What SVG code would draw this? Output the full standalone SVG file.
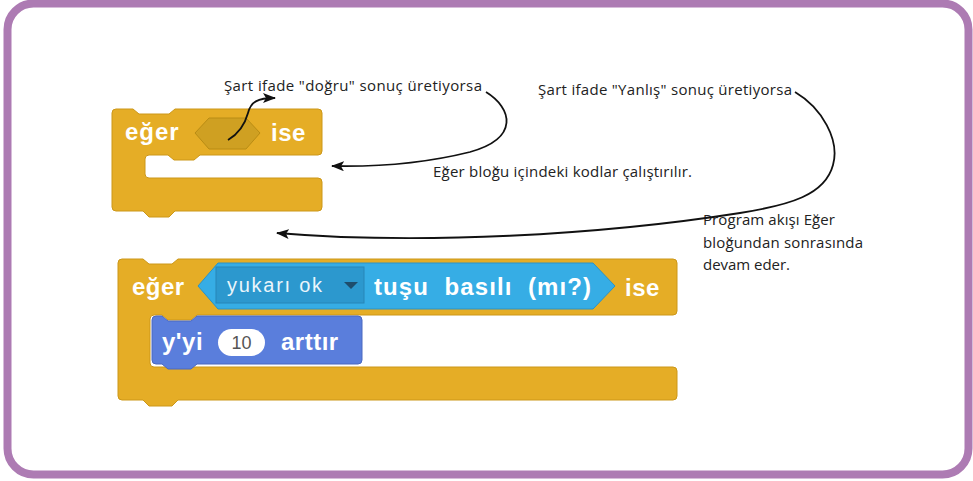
<svg xmlns="http://www.w3.org/2000/svg" width="973" height="481" viewBox="0 0 973 481">
<defs>
<style>
.frame{fill:#ffffff;stroke:#AD7BB3;stroke-width:8}
.ctrl{fill:#E5AD26;stroke:#CC9718;stroke-width:1}
.slot{fill:#CFA022;stroke:#B98C14;stroke-width:1}
.sense{fill:#36ADE5;stroke:#2A93C7;stroke-width:1}
.drop{fill:#2C98CE;stroke:#2786B8;stroke-width:1}
.motion{fill:#5A7EDC;stroke:#4A68C0;stroke-width:1}
.bt{font-family:"Liberation Sans",Arial,sans-serif;font-weight:bold;font-size:24px;fill:#ffffff}
.ann{font-family:"Open Sans","DejaVu Sans",sans-serif;font-size:15px;fill:#222222}
.wire{fill:none;stroke:#111111;stroke-width:1.8;marker-end:url(#ah)}
</style>
<marker id="ah" viewBox="0 0 13 10" refX="12" refY="5" markerWidth="13" markerHeight="10" markerUnits="userSpaceOnUse" orient="auto">
<path d="M0,0 L13,5 L0,10 L3,5 Z" fill="#111111"/>
</marker>
</defs>
<rect class="frame" x="7.5" y="3.5" width="961" height="471" rx="26"/>

<g id="block-if-generic">
<path class="ctrl" d="M112,113 Q112,109 116,109 L133,109 L139,114 L169,114 L175,109 L318,109 Q322,109 322,113 L322,151 Q322,155 318,155 L200,155 L194,160 L174,160 L168,155 L149,155 Q145,155 145,159 L145,174 Q145,178 149,178 L318,178 Q322,178 322,182 L322,207 Q322,211 318,211 L175,211 L169,217 L149,217 L143,211 L116,211 Q112,211 112,207 Z"/>
<text class="bt" x="125" y="140" letter-spacing="1">eğer</text>
<polygon class="slot" points="195,133 209,118 246,118 260,133 246,149 209,149"/>
<text class="bt" x="271" y="141" letter-spacing="0.5">ise</text>
</g>

<g id="block-if-key">
<path class="ctrl" d="M118,263 Q118,259 122,259 L143,259 L149,264 L172,264 L178,259 L673,259 Q677,259 677,263 L677,311 Q677,315 673,315 L197,315 L191,320 L168,320 L162,315 L154,315 Q150,315 150,319 L150,363 Q150,367 154,367 L673,367 Q677,367 677,371 L677,396 Q677,400 673,400 L178,400 L172,406 L149,406 L143,400 L122,400 Q118,400 118,396 Z"/>
<text class="bt" x="132" y="295" letter-spacing="0.5">eğer</text>
<polygon class="sense" points="198,286 218,263 593,263 615,286 593,309 218,309"/>
<rect class="drop" x="216" y="267" width="148" height="36"/>
<text x="227" y="292" font-family="'Liberation Sans',Arial,sans-serif" font-size="20" fill="#EAF5FB" textLength="95" lengthAdjust="spacing">yukarı ok</text>
<polygon points="344,282 358,282 351,289" fill="#1E4D6C"/>
<text class="bt" x="374" y="295" textLength="217" lengthAdjust="spacing" xml:space="preserve">tuşu  basılı  (mı?)</text>
<text class="bt" x="625" y="296" letter-spacing="0.5">ise</text>
</g>

<g id="block-change-y">
<path class="motion" d="M152,320 Q152,316 156,316 L162,316 L168,321 L191,321 L197,316 L358,316 Q362,316 362,320 L362,360 Q362,364 358,364 L197,364 L191,369 L168,369 L162,364 L156,364 Q152,364 152,360 Z"/>
<text class="bt" x="162" y="350" letter-spacing="0.5">y'yi</text>
<rect x="218" y="329" width="47" height="27" rx="13.5" fill="#ffffff"/>
<text x="241.5" y="349" text-anchor="middle" font-family="'Liberation Sans',Arial,sans-serif" font-size="18" fill="#555555">10</text>
<text class="bt" x="281" y="350" letter-spacing="0.5">arttır</text>
</g>

<g id="labels">
<text class="ann" x="224" y="91" textLength="258" lengthAdjust="spacing">Şart ifade "doğru" sonuç üretiyorsa</text>
<text class="ann" x="538" y="95" textLength="254" lengthAdjust="spacing">Şart ifade "Yanlış" sonuç üretiyorsa</text>
<text class="ann" x="433" y="177" textLength="259" lengthAdjust="spacing">Eğer bloğu içindeki kodlar çalıştırılır.</text>
<text class="ann" x="703" y="225" textLength="132" lengthAdjust="spacing">Program akışı Eğer</text>
<text class="ann" x="703" y="248" textLength="160" lengthAdjust="spacing">bloğundan sonrasında</text>
<text class="ann" x="703" y="270" textLength="87" lengthAdjust="spacing">devam eder.</text>
</g>

<g id="connectors">
<path class="wire" d="M228,140 C240,133 245,124 248,113 C251,102 257,98 275,98"/>
<path class="wire" d="M486,92 C512,108 520,138 470,152 C430,162 380,167 332,166"/>
<path class="wire" d="M795,92 C822,108 840,140 833,165 C825,195 790,205 740,213 C600,235 420,245 277,233"/>
</g>
</svg>
